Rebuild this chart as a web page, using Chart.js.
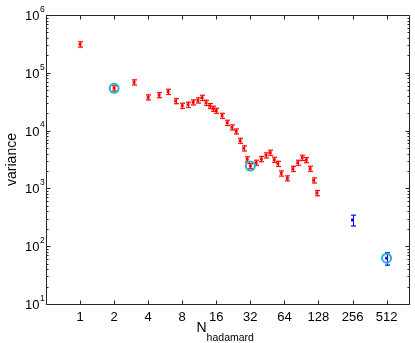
<!DOCTYPE html>
<html>
<head>
<meta charset="utf-8">
<script src="https://cdn.jsdelivr.net/npm/chart.js@4.4.1/dist/chart.umd.min.js"></script>
<style>
  html, body { margin: 0; padding: 0; background: #fff; }
  #wrap { width: 415px; height: 343px; }
</style>
</head>
<body>
<div id="wrap"><canvas id="chart" width="415" height="343"></canvas></div>
<script>
'use strict'

// red series: variance vs N_hadamard
const nValues = [1, 2, 3, 4, 5, 6, 7, 8, 9, 10, 11, 12, 13, 14, 15, 16, 18, 20, 22, 24, 26, 28, 30, 32,
  36, 40, 44, 48, 52, 56, 60, 68, 76, 84, 92, 100, 108, 116, 124]
const variance = [311000, 54000, 68600, 37700, 41300, 47100, 32500, 27000, 28100, 30900, 33400, 37100,
  30400, 26700, 24000, 22100, 18100, 13700, 11400, 9700, 6700, 4940, 3190, 2440,
  2790, 3230, 3740, 4150, 3140, 2670, 1820, 1500, 2190, 2790, 3400, 3100, 2190, 1380, 832]
const varianceErr = [33000, 5500, 7000, 3800, 4200, 4800, 3300, 2800, 2900, 3100, 3400, 3800,
  3100, 2700, 2400, 2200, 1800, 1400, 1150, 980, 680, 500, 330, 250,
  280, 330, 380, 420, 320, 270, 190, 150, 220, 280, 350, 310, 220, 140, 85]

// blue series
const blueN = [256, 512]
const blueVariance = [284, 62]
const blueErr = [60, 15]

// circled points
const circledN = [2, 32, 512]
const circledVariance = [54000, 2440, 62]

const xTicks = [1, 2, 4, 8, 16, 32, 64, 128, 256, 512]
const yExponents = [1, 2, 3, 4, 5, 6]

const toPoints = (xs, ys) => xs.map((x, i) => ({ x: x, y: ys[i] }))

const AXIS_COLOR = '#262626'
const FONT = '"Liberation Sans", Arial, Helvetica, sans-serif'

const errorBars = {
  id: 'errorBars',
  beforeDatasetsDraw(chart) {
    const ctx = chart.ctx
    const xs = chart.scales.x, ys = chart.scales.y
    chart.data.datasets.forEach(function(ds) {
      if (!ds.errors) return
      ds.data.forEach(function(p, i) {
        const e = ds.errors[i]
        const px = Math.round(xs.getPixelForValue(p.x)) + 0.5
        const top = ys.getPixelForValue(p.y + e)
        const bot = ys.getPixelForValue(p.y - e)
        ctx.save()
        ctx.strokeStyle = ds.haloColor
        ctx.lineWidth = 2
        ctx.beginPath()
        ctx.moveTo(px - 2.5, top); ctx.lineTo(px + 2.5, top)
        ctx.moveTo(px - 2.5, bot); ctx.lineTo(px + 2.5, bot)
        ctx.stroke()
        ctx.strokeStyle = ds.borderColor
        ctx.lineWidth = 1
        ctx.beginPath()
        ctx.moveTo(px, top); ctx.lineTo(px, bot)
        ctx.moveTo(px - 2.5, top); ctx.lineTo(px + 2.5, top)
        ctx.moveTo(px - 2.5, bot); ctx.lineTo(px + 2.5, bot)
        ctx.stroke()
        ctx.restore()
      })
    })
  }
}

const frame = {
  id: 'frame',
  afterDraw(chart) {
    const ctx = chart.ctx
    const a = chart.chartArea
    const xs = chart.scales.x, ys = chart.scales.y
    const L = Math.round(a.left) + 0.5, R = Math.round(a.right) + 0.5
    const T = Math.round(a.top) + 0.5, B = Math.round(a.bottom) + 0.5
    ctx.save()
    ctx.strokeStyle = AXIS_COLOR
    ctx.lineWidth = 1
    ctx.strokeRect(L, T, R - L, B - T)
    ctx.beginPath()
    xTicks.forEach(function(v) {
      const px = Math.round(xs.getPixelForValue(v)) + 0.5
      ctx.moveTo(px, B); ctx.lineTo(px, B - 4)
      ctx.moveTo(px, T); ctx.lineTo(px, T + 4)
    })
    yExponents.forEach(function(k) {
      const py = Math.round(ys.getPixelForValue(Math.pow(10, k))) + 0.5
      ctx.moveTo(L, py); ctx.lineTo(L + 4, py)
      ctx.moveTo(R, py); ctx.lineTo(R - 4, py)
      if (k === 6) return
      for (let m = 2; m <= 9; m++) {
        const pm = Math.round(ys.getPixelForValue(m * Math.pow(10, k))) + 0.5
        ctx.moveTo(L, pm); ctx.lineTo(L + 2, pm)
        ctx.moveTo(R, pm); ctx.lineTo(R - 2, pm)
      }
    })
    ctx.stroke()

    // y tick labels 10^k
    ctx.fillStyle = '#000'
    ctx.textBaseline = 'middle'
    yExponents.forEach(function(k) {
      const py = ys.getPixelForValue(Math.pow(10, k))
      ctx.font = '13px ' + FONT
      ctx.textAlign = 'right'
      ctx.fillText('10', 39.5, py + 1.5)
      ctx.font = '8.5px ' + FONT
      ctx.textAlign = 'left'
      ctx.fillText(String(k), 40, py - 5.5)
    })

    // x axis title N_hadamard
    ctx.textBaseline = 'alphabetic'
    ctx.textAlign = 'left'
    ctx.font = '14px ' + FONT
    ctx.fillText('N', 196.5, 332)
    const nw = ctx.measureText('N').width
    ctx.font = '10.5px ' + FONT
    ctx.fillText('hadamard', 196.5 + nw, 340.5)
    ctx.restore()
  }
}

const ctx = document.getElementById('chart').getContext('2d')
const chart = new Chart(ctx, {
  type: 'scatter',
  data: {
    datasets: [
      {
        data: toPoints(circledN, circledVariance),
        pointStyle: 'circle', pointRadius: 4.5, pointBorderWidth: 2,
        borderColor: '#1fb4c8', backgroundColor: 'rgba(0,0,0,0)', order: 0
      },
      {
        data: toPoints(nValues, variance), errors: varianceErr,
        pointStyle: 'rect', pointRadius: 2, pointBorderWidth: 0,
        borderColor: '#ff0000', backgroundColor: '#ff0000', haloColor: 'rgba(255,60,60,0.3)', order: 1
      },
      {
        data: toPoints(blueN, blueVariance), errors: blueErr,
        pointStyle: 'rect', pointRadius: 2, pointBorderWidth: 0,
        borderColor: '#0000ff', backgroundColor: '#0000ff', haloColor: 'rgba(60,60,255,0.25)', order: 2
      }
    ]
  },
  options: {
    responsive: false,
    animation: false,
    events: [],
    layout: { padding: { left: 0, top: 15, right: 3, bottom: 0 } },
    plugins: { legend: { display: false }, tooltip: { enabled: false } },
    scales: {
      x: {
        type: 'logarithmic', min: 0.5, max: 800,
        grid: { display: false, drawTicks: false },
        border: { display: false },
        afterBuildTicks: function(scale) { scale.ticks = xTicks.map(v => ({ value: v })) },
        afterFit: function(scale) { scale.height = 39 },
        ticks: {
          autoSkip: false, maxRotation: 0, padding: 6, color: '#000',
          font: { family: FONT, size: 13 },
          callback: function(value) { return String(value) }
        }
      },
      y: {
        type: 'logarithmic', min: 10, max: 1000000,
        grid: { display: false, drawTicks: false },
        border: { display: false },
        ticks: { display: false },
        afterFit: function(scale) { scale.width = 46 },
        title: {
          display: true, text: 'variance', color: '#000',
          font: { family: FONT, size: 14 }, padding: { top: 4, bottom: 0 }
        }
      }
    }
  },
  plugins: [errorBars, frame]
})
</script>
</body>
</html>
